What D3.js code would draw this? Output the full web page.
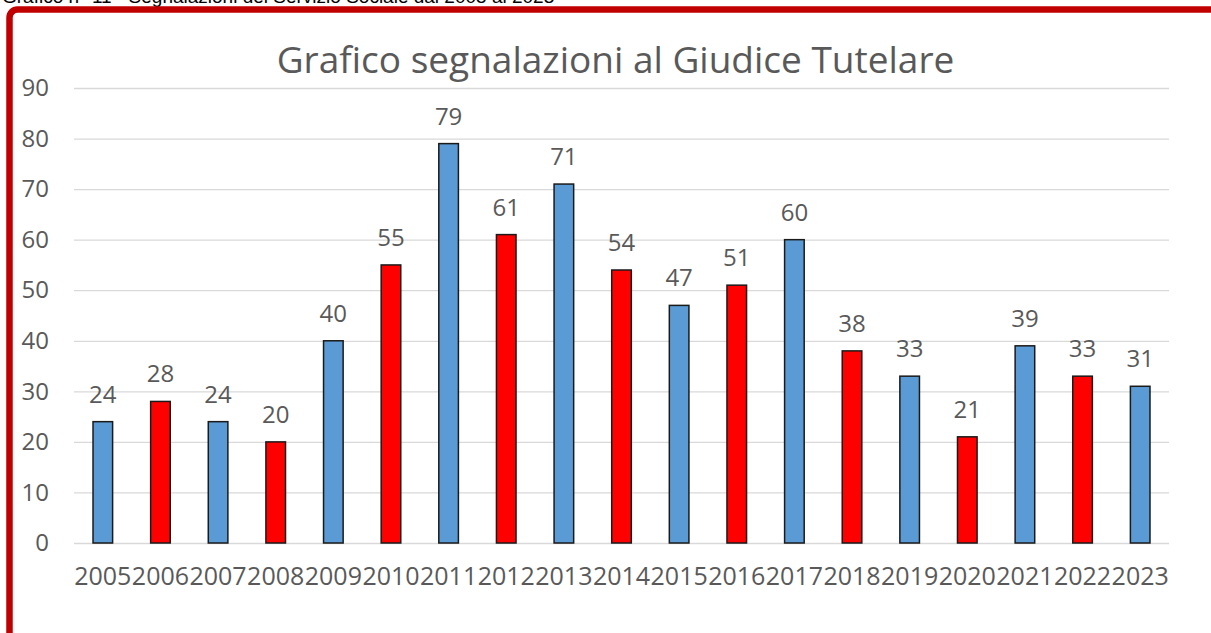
<!DOCTYPE html>
<html><head><meta charset="utf-8">
<script src="https://cdn.jsdelivr.net/npm/d3@7/dist/d3.min.js"></script>
<style>html,body{margin:0;padding:0;background:#fff;overflow:hidden}</style>
</head><body>
<script>
const years = ["2005","2006","2007","2008","2009","2010","2011","2012","2013","2014","2015","2016","2017","2018","2019","2020","2021","2022","2023"];
const values = [24,28,24,20,40,55,79,61,71,54,47,51,60,38,33,21,39,33,31];
const barColors = ["#5B9BD5","#FF0000","#5B9BD5","#FF0000","#5B9BD5","#FF0000","#5B9BD5","#FF0000","#5B9BD5","#FF0000","#5B9BD5","#FF0000","#5B9BD5","#FF0000","#5B9BD5","#FF0000","#5B9BD5","#FF0000","#5B9BD5"];
const yTicks = [0,10,20,30,40,50,60,70,80,90];
const chartTitle = "Grafico segnalazioni al Giudice Tutelare";
const caption = "Grafico n° 11 - Segnalazioni del Servizio Sociale dal 2005 al 2023";

const W = 1211, H = 633;
const svg = d3.select("body").append("svg").attr("width", W).attr("height", H);
const font = "'Open Sans', sans-serif";

svg.append("text").attr("x", 2).attr("y", 3).attr("font-family","'Liberation Sans', Arial, sans-serif")
  .attr("font-size", 19).attr("fill","#000").text(caption);

svg.append("rect").attr("x", 9.5).attr("y", 9.5).attr("width", W + 20).attr("height", H + 20)
  .attr("rx", 8).attr("fill","#fff").attr("stroke","#C00000").attr("stroke-width", 6.5);

const x = d3.scaleBand().domain(years).range([74, 1169]).paddingInner(0.66).paddingOuter(0.33);
const y = d3.scaleLinear().domain([0, 90]).range([543, 88]);

const gy = svg.append("g").attr("transform","translate(74,0)")
  .call(d3.axisLeft(y).tickValues(yTicks).tickSize(-(1169-74)).tickPadding(25));
gy.select(".domain").remove();
gy.selectAll(".tick line").attr("stroke","#D9D9D9").attr("stroke-width",1.3);
gy.selectAll(".tick text").attr("font-family",font).attr("font-size",24).attr("fill","#595959");

svg.append("g").selectAll("rect").data(values).join("rect")
  .attr("x",(d,i)=>x(years[i])).attr("width",x.bandwidth())
  .attr("y",d=>y(d)).attr("height",d=>y(0)-y(d))
  .attr("fill",(d,i)=>barColors[i]).attr("stroke","#1a1a1a").attr("stroke-width",1.5);

svg.append("g").selectAll("text").data(values).join("text")
  .attr("x",(d,i)=>x(years[i])+x.bandwidth()/2).attr("y",d=>y(d)-19)
  .attr("text-anchor","middle").attr("font-family",font).attr("font-size",24).attr("fill","#595959")
  .text(d=>d);

const gx = svg.append("g").attr("transform","translate(0,543)")
  .call(d3.axisBottom(x).tickSize(0).tickPadding(42));
gx.select(".domain").remove();
gx.selectAll(".tick text").attr("font-family",font).attr("font-size",25).attr("fill","#595959").attr("dy",0);

svg.append("text").attr("x",615.5).attr("y",73).attr("text-anchor","middle")
  .attr("font-family",font).attr("font-size",37).attr("fill","#595959").text(chartTitle);
</script>
</body></html>
